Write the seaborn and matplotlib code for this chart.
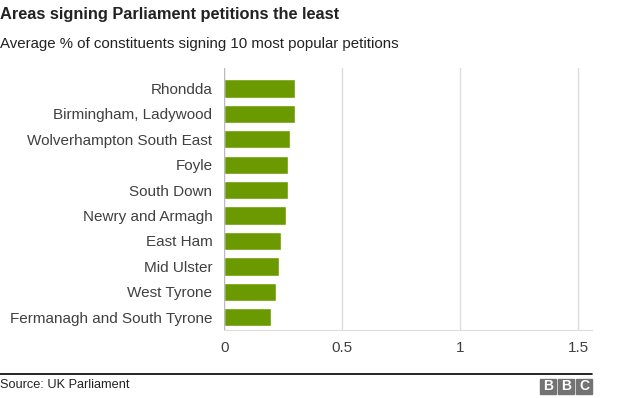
import matplotlib
matplotlib.use("Agg")
import matplotlib.pyplot as plt
import seaborn as sns
import pandas as pd
from matplotlib.patches import Rectangle

# data
areas = ["Rhondda", "Birmingham, Ladywood", "Wolverhampton South East", "Foyle",
         "South Down", "Newry and Armagh", "East Ham", "Mid Ulster", "West Tyrone",
         "Fermanagh and South Tyrone"]
pct = [0.30, 0.30, 0.28, 0.27, 0.27, 0.26, 0.24, 0.23, 0.22, 0.20]
xticks = [0, 0.5, 1, 1.5]
xtick_labels = ["0", "0.5", "1", "1.5"]

df = pd.DataFrame({"area": areas, "pct": pct})

sns.set_style("white")
plt.rcParams["font.family"] = ["Liberation Sans", "DejaVu Sans"]

W, H = 624, 398
fig = plt.figure(figsize=(6.24, 3.98), dpi=100)
# axes box in pixels: x 224..592, y 68..330
ax = fig.add_axes([224.3 / W, 1 - 330 / H, (591.7 - 224.3) / W, (330 - 68) / H])

sns.barplot(data=df, x="pct", y="area", color="#6a9a00", saturation=1,
            width=0.72, ax=ax, zorder=3)

ax.set_xlim(0, 1.557)
ax.set_ylim(9.5, -0.8)
ax.set_xticks(xticks)
ax.set_xticklabels(xtick_labels)
ax.xaxis.grid(True, color="#dddddd", linewidth=1, zorder=0)
ax.set_xlabel("")
ax.set_ylabel("")
for s in ["top", "right", "left"]:
    ax.spines[s].set_visible(False)
ax.spines["bottom"].set_color("#dddddd")
ax.tick_params(axis="y", length=0, pad=8.5, labelsize=11, labelcolor="#404040")
ax.tick_params(axis="x", length=8, color="#dddddd", pad=4, labelsize=11,
               labelcolor="#404040", direction="inout")
ax.axvline(0, color="#bbbbbb", linewidth=1, zorder=4)

fig.text(0.0, 1 - 14 / H, "Areas signing Parliament petitions the least",
         fontsize=11.8, fontweight="bold", color="#222222", va="center")
fig.text(0.0, 1 - 44 / H, "Average % of constituents signing 10 most popular petitions",
         fontsize=10.8, color="#222222", va="center")

# footer
fig.add_artist(plt.Line2D([0, 592 / W], [1 - 374 / H] * 2, color="black",
                          linewidth=1.2, transform=fig.transFigure))
fig.text(0.0, 1 - 385 / H, "Source: UK Parliament", fontsize=9.2, color="#222222",
         va="center")
for i, letter in enumerate("BBC"):
    x0 = 540 + i * 18
    fig.add_artist(Rectangle((x0 / W, 1 - 394 / H), 16 / W, 15 / H,
                             transform=fig.transFigure, color="#737373"))
    fig.text((x0 + 8) / W, 1 - 386.5 / H, letter, color="white", fontsize=10,
             fontweight="bold", ha="center", va="center")

fig.savefig("out.png", dpi=100)
